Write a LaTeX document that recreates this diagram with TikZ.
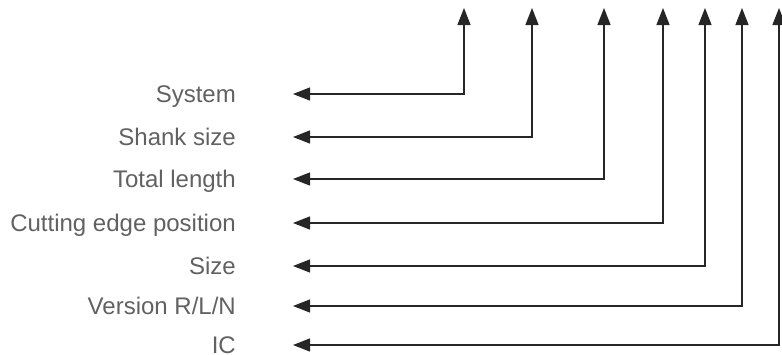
\documentclass[tikz,border=0pt]{standalone}
\usepackage{fontspec}
\setmainfont{Liberation Sans}
\usetikzlibrary{arrows.meta}

\begin{document}
\begin{tikzpicture}[
  x=1pt, y=-1pt,
  lbl/.style={anchor=east, inner sep=4pt, text height=17pt, text depth=0pt,
              text=black!62, font=\fontsize{24}{29}\selectfont},
  arr/.style={{Triangle[length=17pt,width=13pt]}-{Triangle[length=17pt,width=13pt]},
              line width=1.3pt, draw=black!85, shorten >=53pt}
]
\useasboundingbox (0,0) rectangle (782,354);

% labels
\node[lbl] (sys)  at (240,94)  {System};
\node[lbl] (shk)  at (240,137) {Shank size};
\node[lbl] (len)  at (240,179) {Total length};
\node[lbl] (cut)  at (240,223) {Cutting edge position};
\node[lbl] (size) at (240,266) {Size};
\node[lbl] (ver)  at (240,306) {Version R/L/N};
\node[lbl] (ic)   at (240,345) {IC};

% arrow tips on top
\coordinate (tsys)  at (464,8);
\coordinate (tshk)  at (532,8);
\coordinate (tlen)  at (604,8);
\coordinate (tcut)  at (663,8);
\coordinate (tsize) at (705,8);
\coordinate (tver)  at (742,8);
\coordinate (tic)   at (779,8);

\draw[arr] (tsys)  |- (sys);
\draw[arr] (tshk)  |- (shk);
\draw[arr] (tlen)  |- (len);
\draw[arr] (tcut)  |- (cut);
\draw[arr] (tsize) |- (size);
\draw[arr] (tver)  |- (ver);
\draw[arr] (tic)   |- (ic);
\end{tikzpicture}
\end{document}
